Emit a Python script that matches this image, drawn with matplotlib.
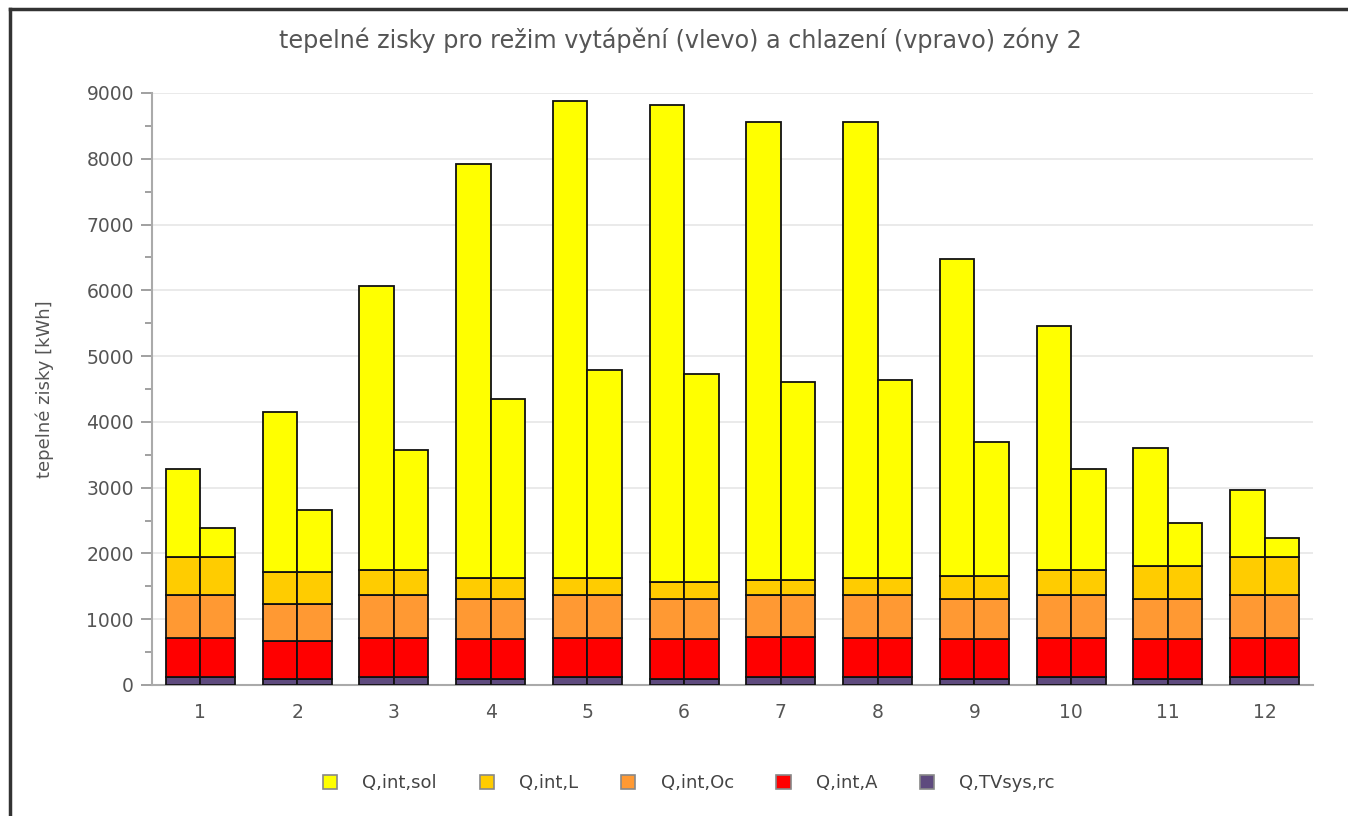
import matplotlib
matplotlib.use("Agg")
import matplotlib.pyplot as plt
from matplotlib.lines import Line2D
from matplotlib.patches import Patch
import numpy as np

months = ["1", "2", "3", "4", "5", "6", "7", "8", "9", "10", "11", "12"]

# shared lower layers (same for heating and cooling bar of each month)
q_tvsys_rc = [115, 95, 120, 90, 120, 90, 120, 120, 90, 120, 90, 115]
q_int_a = [605, 578, 600, 609, 600, 609, 605, 600, 609, 600, 609, 605]
q_int_oc = [648, 553, 645, 608, 648, 608, 643, 648, 608, 648, 608, 648]
q_int_l = [582, 487, 383, 319, 253, 254, 232, 253, 349, 375, 501, 582]
# solar gains
q_int_sol_heat = [1335, 2442, 4317, 6294, 7259, 7254, 6960, 6939, 4819, 3712, 1792, 1010]
q_int_sol_cool = [430, 947, 1822, 2724, 3169, 3169, 3010, 3019, 2034, 1537, 662, 290]

labels = ["Q,int,sol", "Q,int,L", "Q,int,Oc", "Q,int,A", "Q,TVsys,rc"]
colors = ["#FFFF00", "#FFCC00", "#FF9933", "#FF0000", "#5E4A7E"]

fig = plt.figure(figsize=(13.48, 8.16), dpi=100)
ax = fig.add_axes([152 / 1348, 1 - 685 / 816, (1313 - 152) / 1348, (685 - 93) / 816])

x = np.arange(len(months))
w = 0.357

def stack(xpos, sol):
    layers = [q_tvsys_rc, q_int_a, q_int_oc, q_int_l, sol]
    cols = [colors[4], colors[3], colors[2], colors[1], colors[0]]
    bottom = np.zeros(len(months))
    for vals, c in zip(layers, cols):
        v = np.array(vals, dtype=float)
        ax.bar(xpos, v, width=w, bottom=bottom, color=c, edgecolor="#111111",
               linewidth=1.3, zorder=3)
        bottom += v

stack(x - w / 2, q_int_sol_heat)
stack(x + w / 2, q_int_sol_cool)

ax.set_xlim(-0.5, len(months) - 0.5)
ax.set_ylim(0, 9000)
ax.set_yticks(np.arange(0, 9001, 1000))
ax.set_yticks(np.arange(500, 9000, 1000), minor=True)
ax.set_xticks(x)
ax.set_xticklabels(months)
ax.yaxis.grid(True, color="#e6e6e6", linewidth=1.2, zorder=0)
ax.set_axisbelow(True)

for s in ["top", "right"]:
    ax.spines[s].set_visible(False)
for s in ["left", "bottom"]:
    ax.spines[s].set_color("#aaaaaa")
    ax.spines[s].set_linewidth(1.5)

ax.tick_params(axis="y", which="major", length=8, width=1.3, color="#999999",
               labelsize=13.5, labelcolor="#555555", pad=5)
ax.tick_params(axis="y", which="minor", length=5, width=1.3, color="#999999")
ax.tick_params(axis="x", which="major", length=0, labelsize=13.5,
               labelcolor="#555555", pad=13)

ax.set_ylabel("tepelné zisky [kWh]", fontsize=13, color="#555555", labelpad=23)

fig.text(0.505, 1 - 40 / 816, "tepelné zisky pro režim vytápění (vlevo) a chlazení (vpravo) zóny 2",
         ha="center", va="center", fontsize=17.2, color="#555555")

handles = [Patch(facecolor=c, edgecolor="#888888", linewidth=1.2) for c in colors]
fig.legend(handles, labels, loc="center", bbox_to_anchor=(0.511, 1 - 783 / 816),
           ncol=5, frameon=False, fontsize=13, labelcolor="#444444",
           handlelength=0.8, handleheight=0.8, columnspacing=2.35, handletextpad=1.4)

# outer frame lines (top and left)
fig.add_artist(Line2D([10 / 1348, 1], [1 - 9 / 816, 1 - 9 / 816], color="#333333",
                      linewidth=2.5, transform=fig.transFigure))
fig.add_artist(Line2D([10 / 1348, 10 / 1348], [0, 1 - 9 / 816], color="#333333",
                      linewidth=2.5, transform=fig.transFigure))

fig.savefig("out.png", dpi=100, facecolor="white")
